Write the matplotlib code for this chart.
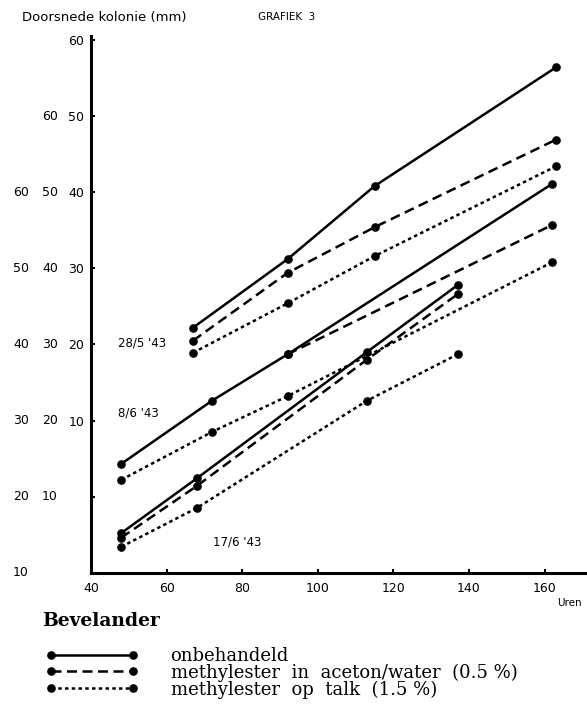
import matplotlib
matplotlib.use('Agg')
import matplotlib.pyplot as plt
import matplotlib.transforms as mtransforms

# =============================================================================
# Data: colony diameter (mm) against hours, three sowing dates
# =============================================================================
# 28/5 '43
h_285 = [67, 92, 115, 163]
d_285_onb = [22.2, 31.2, 40.8, 56.4]
d_285_ace = [20.5, 29.4, 35.4, 46.9]
d_285_talk = [18.9, 25.4, 31.6, 43.4]
# 8/6 '43
h_86 = [48, 72, 92, 162]
d_86_onb = [14.3, 22.6, 28.7, 51.1]
h_86_ace = [92, 162]
d_86_ace = [28.7, 45.7]
d_86_talk = [12.2, 18.5, 23.2, 40.8]
# 17/6 '43
h_176 = [48, 68, 113, 137]
d_176_onb = [15.2, 22.4, 39.0, 47.8]
d_176_ace = [14.6, 21.4, 38.0, 46.6]
d_176_talk = [13.4, 18.5, 32.6, 38.7]

# each date has its own y scale, shifted by 10 mm
shift = {'28/5': 20, '8/6': 10, '17/6': 0}

x_ticks = [40, 60, 80, 100, 120, 140, 160]
scale_vals = [10, 20, 30, 40, 50, 60]

labels = ['onbehandeld',
          'methylester  in  aceton/water  (0.5 %)',
          'methylester  op  talk  (1.5 %)']

# =============================================================================
# Plot
# =============================================================================
W, H = 587, 706
fig = plt.figure(figsize=(W / 100, H / 100), dpi=100)
ax = fig.add_axes([91 / W, 1 - 572.7 / H, 495 / W, (572.7 - 36) / H])

lw = 1.8
ms = 5.2
st_onb = dict(color='black', lw=lw, ls='-', marker='o', ms=ms)
st_ace = dict(color='black', lw=lw, ls=(0, (4, 2.2)), marker='o', ms=ms)
st_talk = dict(color='black', lw=lw, ls=(0, (1.4, 1.3)), marker='o', ms=ms)

s = shift['28/5']
l1, = ax.plot(h_285, [v + s for v in d_285_onb], **st_onb)
l2, = ax.plot(h_285, [v + s for v in d_285_ace], **st_ace)
l3, = ax.plot(h_285, [v + s for v in d_285_talk], **st_talk)

s = shift['8/6']
ax.plot(h_86, [v + s for v in d_86_onb], **st_onb)
ax.plot(h_86_ace, [v + s for v in d_86_ace], **st_ace)
ax.plot(h_86, [v + s for v in d_86_talk], **st_talk)

s = shift['17/6']
ax.plot(h_176, [v + s for v in d_176_onb], **st_onb)
ax.plot(h_176, [v + s for v in d_176_ace], **st_ace)
ax.plot(h_176, [v + s for v in d_176_talk], **st_talk)

ax.set_xlim(40, 40 + 495 / 3.78)
ax.set_ylim(10, 10 + 536.7 / 7.61)

for side in ['top', 'right']:
    ax.spines[side].set_visible(False)
for side in ['left', 'bottom']:
    ax.spines[side].set_linewidth(2.2)

ax.set_xticks(x_ticks)
ax.set_xticklabels([str(v) for v in x_ticks], fontsize=9)
ax.tick_params(axis='x', direction='in', length=3, width=1.5, pad=7)

# rightmost scale column as the tick labels (28/5)
ax.set_yticks([v + shift['28/5'] for v in scale_vals])
ax.set_yticklabels([str(v) for v in scale_vals], fontsize=9)
ax.tick_params(axis='y', direction='in', length=3, width=1.5, pad=5)
ax.set_yticks([10, 20], minor=True)
ax.tick_params(axis='y', which='minor', direction='in', length=3, width=1.5)

# the two other scale columns
tr = mtransforms.blended_transform_factory(fig.transFigure, ax.transData)
for v in scale_vals:
    ax.text(58 / W, v + shift['8/6'], str(v), transform=tr, ha='right',
            va='center', fontsize=9)
    ax.text(29 / W, v + shift['17/6'], str(v), transform=tr, ha='right',
            va='center', fontsize=9)

# date labels
ax.text(118 / W, 20.2 + shift['28/5'], "28/5 '43", transform=tr, ha='left',
        va='center', fontsize=8.5)
ax.text(118 / W, 21.0 + shift['8/6'], "8/6 '43", transform=tr, ha='left',
        va='center', fontsize=8.5)
ax.text(213 / W, 14.0 + shift['17/6'], "17/6 '43", transform=tr, ha='left',
        va='center', fontsize=8.5)

fig.text(22 / W, 1 - 17 / H, 'Doorsnede kolonie (mm)', fontsize=9.5,
         ha='left', va='center')
fig.text(258 / W, 1 - 17 / H, 'GRAFIEK  3', fontsize=7.5, ha='left',
         va='center')
fig.text(582 / W, 1 - 603 / H, 'Uren', fontsize=7.5, ha='right', va='center')

fig.text(42 / W, 1 - 621 / H, 'Bevelander', fontsize=13.5, weight='bold',
         family='DejaVu Serif', ha='left', va='center')

fig.legend(handles=[l1, l2, l3], labels=labels, loc='upper left',
           bbox_to_anchor=(46 / W, 1 - 647 / H), frameon=False, numpoints=2,
           handlelength=5.1, handletextpad=1.8, labelspacing=-0.08,
           borderpad=0, borderaxespad=0,
           prop={'family': 'DejaVu Serif', 'size': 13})

fig.savefig('out.png', dpi=100)
